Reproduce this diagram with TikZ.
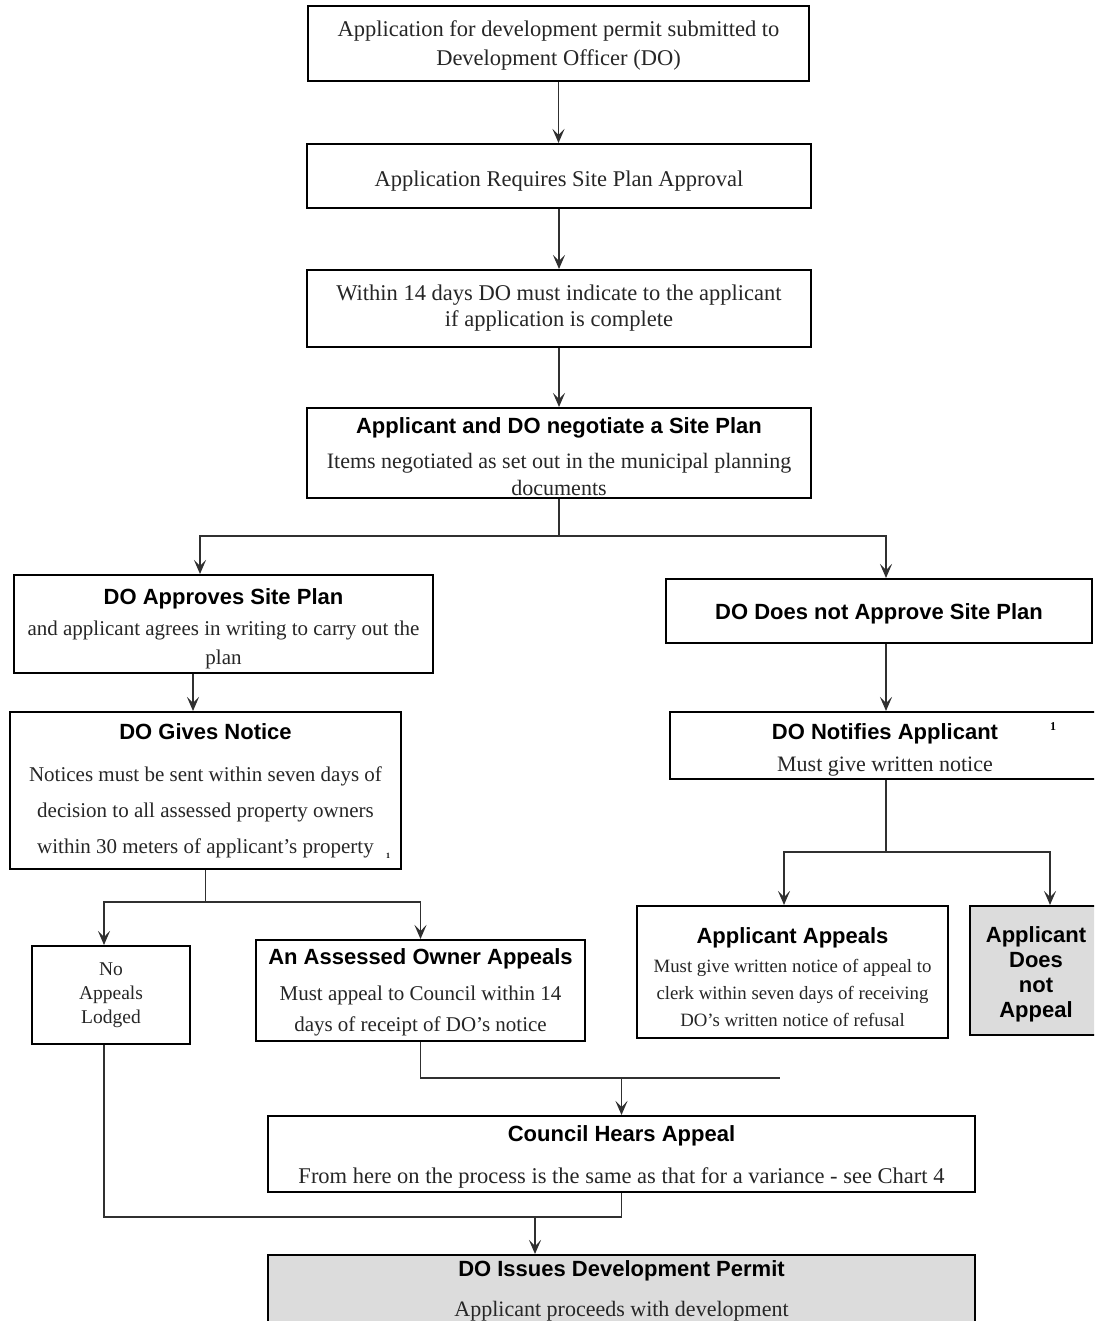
\documentclass[tikz,border=0pt]{standalone}
\usepackage{fontspec}
\setmainfont{Liberation Serif}
\setsansfont{Liberation Sans}
\usetikzlibrary{arrows.meta}

\definecolor{boxgray}{HTML}{DCDCDC}
\definecolor{linegray}{HTML}{303030}
\definecolor{textgray}{HTML}{262626}
\newcommand{\ttl}[1]{{\color{black}\sffamily\bfseries\fontsize{22}{26}\selectfont #1}}
\newcommand{\lift}[1]{\rule{0pt}{#1}}

\begin{document}
\begin{tikzpicture}[x=1pt, y=-1pt, >={Stealth[length=14pt, width=12pt, inset=6pt]},
    box/.style={draw=black, line width=2pt, fill=white, align=center, inner sep=0pt,
        text=textgray, font=\fontsize{22.5}{29}\selectfont},
    endbox/.style={box, fill=boxgray},
    flow/.style={draw=linegray, line width=1.6pt},
    note/.style={inner sep=0pt, font=\bfseries}]
    \useasboundingbox (0,0) rectangle (1094,1321);
    \clip (0,0) rectangle (1094,1321);

    % Main column
    \node[box, minimum width=501, minimum height=75] (apply) at (558.5,43.5)
        {\lift{20.5pt}Application for development permit submitted to\\Development Officer (DO)};
    \node[box, minimum width=504, minimum height=64] (siteplan) at (559,176)
        {\lift{25.5pt}Application Requires Site Plan Approval};
    \node[box, minimum width=504, minimum height=77, font=\fontsize{22.5}{26}\selectfont] (complete) at (559,308.5)
        {Within 14 days DO must indicate to the applicant\\if application is complete};
    \node[box, minimum width=504, minimum height=90, font=\fontsize{22}{27}\selectfont] (negotiate) at (559,453)
        {\lift{24pt}\ttl{Applicant and DO negotiate a Site Plan}\\[8pt]Items negotiated as set out in the municipal planning\\documents};

    % Approved branch
    \node[box, minimum width=419, minimum height=98, font=\fontsize{21}{29}\selectfont] (approve) at (223.5,624)
        {\lift{26pt}\ttl{DO Approves Site Plan}\\[2pt]and applicant agrees in writing to carry out the\\plan};
    \node[box, minimum width=391, minimum height=157, font=\fontsize{21}{36}\selectfont] (notice) at (205.5,790.5)
        {\ttl{DO Gives Notice}\\[6pt]Notices must be sent within seven days of\\decision to all assessed property owners\\within 30 meters of applicant's property};
    \node[note, font=\fontsize{8}{8}\selectfont\bfseries] (noteA) at (388,856) {1};
    \node[box, minimum width=158, minimum height=98, font=\fontsize{19.5}{24}\selectfont] (nolodge) at (111,995)
        {No\\Appeals\\Lodged};
    \node[box, minimum width=329, minimum height=101, font=\fontsize{21}{31}\selectfont] (owner) at (420.5,990.5)
        {\lift{20pt}\ttl{An Assessed Owner Appeals}\\[5pt]Must appeal to Council within 14\\days of receipt of DO's notice};

    % Refused branch
    \node[box, minimum width=426, minimum height=64] (refuse) at (879,611)
        {\lift{22pt}\ttl{DO Does not Approve Site Plan}};
    \node[box, minimum width=430, minimum height=67, font=\fontsize{22}{32}\selectfont] (notify) at (885,745.5)
        {\lift{24pt}\ttl{DO Notifies Applicant}\\Must give written notice};
    \node[note, font=\fontsize{12}{12}\selectfont\bfseries] (noteB) at (1053,727) {1};
    \node[box, minimum width=311, minimum height=132, font=\fontsize{18.8}{27}\selectfont] (appeal) at (792.5,972)
        {\lift{26pt}\ttl{Applicant Appeals}\\[2pt]Must give written notice of appeal to\\clerk within seven days of receiving\\DO's written notice of refusal};
    \node[endbox, minimum width=132, minimum height=129, text=black,
        font=\sffamily\bfseries\fontsize{22}{25}\selectfont] (noappeal) at (1036,970.5)
        {\lift{24pt}Applicant\\Does\\not\\Appeal};

    % Bottom
    \node[box, minimum width=707, minimum height=76, font=\fontsize{22.5}{28}\selectfont] (council) at (621.5,1154)
        {\lift{21pt}\ttl{Council Hears Appeal}\\[14pt]From here on the process is the same as that for a variance - see Chart 4};
    \node[endbox, minimum width=707, minimum height=72, font=\fontsize{22}{28}\selectfont] (permit) at (621.5,1291)
        {\ttl{DO Issues Development Permit}\\[12pt]Applicant proceeds with development};

    % Connectors, main column
    \draw[->, flow] (apply.south) -- (apply.south |- siteplan.north);
    \draw[->, flow] (siteplan) -- (complete);
    \draw[->, flow] (complete) -- (negotiate);

    \coordinate (split1) at (559,536);
    \draw[flow] (negotiate.south) -- (split1);
    \draw[->, flow] (split1) -| ([xshift=-23.5]approve.north);
    \draw[->, flow] (split1) -| ([xshift=7]refuse.north);

    % Connectors, approved branch
    \draw[->, flow] ([xshift=-30.5]approve.south) -- ([xshift=-12.5]notice.north);
    \coordinate (split2) at (205.5,902);
    \draw[flow] (notice.south) -- (split2);
    \draw[->, flow] (split2) -| ([xshift=-7]nolodge.north);
    \draw[->, flow] (split2) -| (owner.north);

    % Connectors, refused branch
    \draw[->, flow] ([xshift=7]refuse.south) -- ([xshift=1]notify.north);
    \coordinate (split3) at (886,852);
    \draw[flow] ([xshift=1]notify.south) -- (split3);
    \draw[->, flow] (split3) -| ([xshift=-8.5]appeal.north);
    \draw[->, flow] (split3) -| ([xshift=14]noappeal.north);

    % Connectors, bottom
    \coordinate (stub) at (780,1078);
    \draw[flow] (owner.south) |- (stub);
    \draw[->, flow] (council.north |- stub) -- (council.north);
    \coordinate (join) at (621.5,1217);
    \draw[flow] ([xshift=-7]nolodge.south) |- (join);
    \draw[flow] (council.south) -- (join);
    \coordinate (merge) at (535,1217);
    \draw[->, flow] (merge) -- (merge |- permit.north);
\end{tikzpicture}
\end{document}
